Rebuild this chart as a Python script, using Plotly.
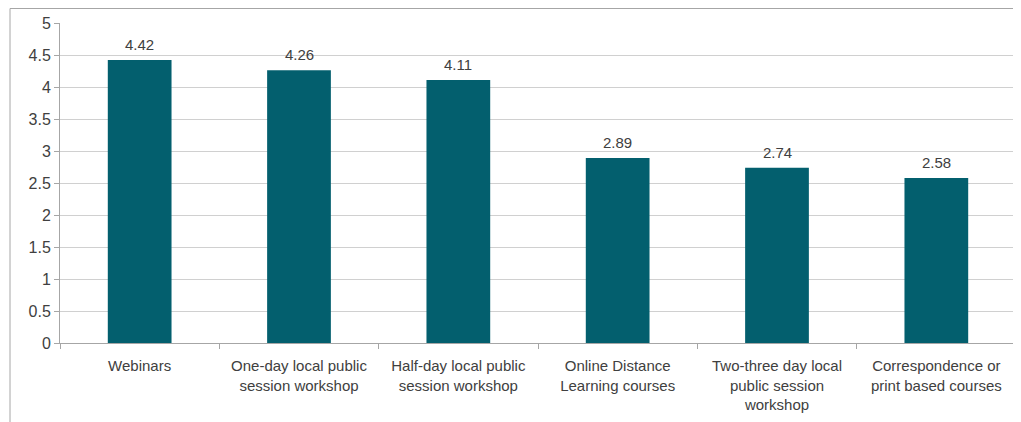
import plotly.graph_objects as go

categories = [
    "Webinars",
    "One-day local public<br>session workshop",
    "Half-day local public<br>session workshop",
    "Online Distance<br>Learning courses",
    "Two-three day local<br>public session<br>workshop",
    "Correspondence or<br>print based courses",
]
ratings = [4.42, 4.26, 4.11, 2.89, 2.74, 2.58]
y_ticks = [0, 0.5, 1, 1.5, 2, 2.5, 3, 3.5, 4, 4.5, 5]

text_color = "#404040"
font = "Liberation Sans, Arial, sans-serif"

fig = go.Figure()
fig.add_trace(go.Bar(
    x=categories,
    y=ratings,
    marker=dict(color="#035F6E", line=dict(width=0)),
    width=0.4,
))

# value labels above each bar
for cat, val in zip(categories, ratings):
    fig.add_annotation(
        x=cat, y=val, text=f"{val:.2f}",
        showarrow=False, yanchor="bottom", yshift=5,
        font=dict(size=15, color=text_color, family=font),
    )

fig.update_layout(
    width=1013,
    height=414,
    margin=dict(l=52, r=5, t=15, b=79),
    plot_bgcolor="white",
    paper_bgcolor="white",
    showlegend=False,
    font=dict(family=font, size=15, color=text_color),
    xaxis=dict(
        type="category",
        showline=True,
        linecolor="#A6A6A6",
        linewidth=1,
        ticks="outside",
        tickson="boundaries",
        ticklen=5,
        tickcolor="#A6A6A6",
        showgrid=False,
        ticklabelstandoff=9,
    ),
    yaxis=dict(
        range=[0, 5],
        tickvals=y_ticks,
        ticktext=[f"{t:g}" for t in y_ticks],
        showline=True,
        linecolor="#A6A6A6",
        linewidth=1,
        ticks="outside",
        ticklen=5,
        tickcolor="#A6A6A6",
        showgrid=True,
        gridcolor="#D0D0D0",
        gridwidth=1,
        zeroline=False,
        tickfont=dict(size=16),
    ),
)

# outer chart frame
fig.add_shape(
    type="rect", xref="paper", yref="paper",
    x0=-50 / 956, x1=1.02, y0=-1.0, y1=1 + 14.5 / 320,
    line=dict(color="#A6A6A6", width=1),
    layer="below",
)

fig.write_html("out.html")
